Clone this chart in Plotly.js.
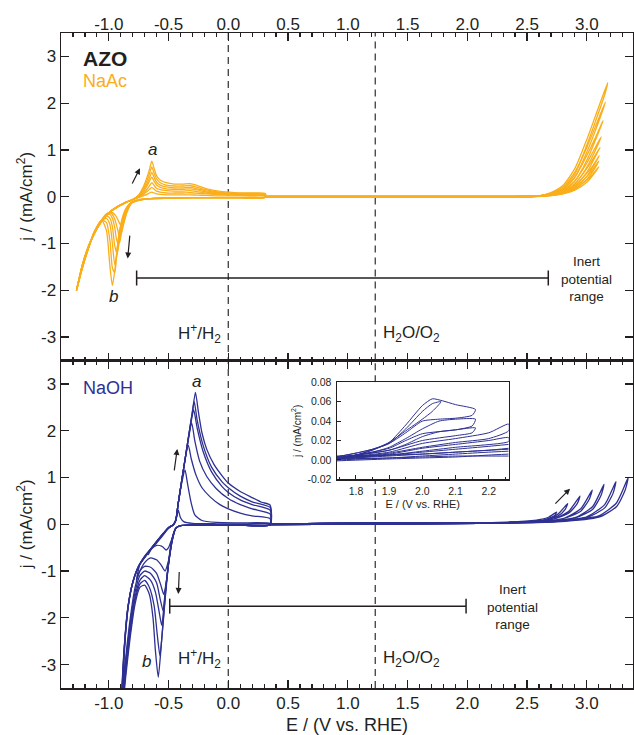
<!DOCTYPE html>
<html><head><meta charset="utf-8">
<script src="https://cdn.plot.ly/plotly-3.0.1.min.js"></script>
<style>html,body{margin:0;padding:0;background:#fff}#chart{width:634px;height:735px}</style>
</head><body><div id="chart"></div>
<script>
// ---------- Top panel (NaAc): cathodic cycles, shared potential axis ----------
const naacCathE = [0.31,0.1,-0.1,-0.3,-0.5,-0.65,-0.75,-0.81,-0.85,-0.87,-0.89,-0.91,-0.93,-0.95,-0.97,-0.99,-1.02,-1.06,-1.12,-1.18,-1.23,-1.27,
  -1.22,-1.16,-1.10,-1.04,-0.98,-0.92,-0.86,-0.80,-0.75,-0.71,-0.68,-0.66,-0.64,-0.62,-0.60,-0.57,-0.52,-0.45,-0.38,-0.32,-0.26,-0.18,-0.08,0.05,0.18,0.31,0.31];
const naacCathJ1 = [-0.01,-0.02,-0.02,-0.02,-0.03,-0.04,-0.08,-0.14,-0.35,-0.52,-0.64,-0.57,-0.46,-0.38,-0.34,-0.33,-0.37,-0.49,-0.76,-1.18,-1.60,-2.00,
  -1.45,-1.00,-0.68,-0.45,-0.30,-0.20,-0.12,-0.06,-0.02,0.02,0.05,0.08,0.10,0.08,0.06,0.05,0.04,0.04,0.04,0.04,0.035,0.03,0.02,0.02,0.015,0.01,-0.01];
const naacCathJ2 = [-0.01,-0.02,-0.02,-0.02,-0.03,-0.04,-0.08,-0.14,-0.32,-0.52,-0.74,-0.84,-0.66,-0.48,-0.38,-0.34,-0.37,-0.50,-0.76,-1.18,-1.61,-2.00,
  -1.46,-1.01,-0.69,-0.46,-0.30,-0.20,-0.12,-0.06,-0.01,0.05,0.11,0.16,0.20,0.16,0.12,0.10,0.08,0.08,0.08,0.085,0.075,0.06,0.045,0.035,0.03,0.02,-0.01];
const naacCathJ3 = [-0.01,-0.02,-0.02,-0.02,-0.03,-0.04,-0.07,-0.13,-0.29,-0.46,-0.70,-0.98,-0.96,-0.66,-0.46,-0.38,-0.39,-0.51,-0.76,-1.17,-1.60,-2.00,
  -1.44,-0.99,-0.68,-0.45,-0.30,-0.20,-0.12,-0.06,0.00,0.08,0.16,0.23,0.30,0.24,0.18,0.15,0.13,0.12,0.12,0.13,0.11,0.08,0.06,0.045,0.04,0.03,-0.01];
const naacCathJ4 = [-0.01,-0.02,-0.02,-0.02,-0.03,-0.04,-0.07,-0.13,-0.27,-0.41,-0.62,-0.92,-1.22,-1.05,-0.64,-0.46,-0.41,-0.51,-0.75,-1.17,-1.59,-2.00,
  -1.45,-1.00,-0.69,-0.46,-0.31,-0.21,-0.13,-0.06,0.01,0.11,0.23,0.33,0.42,0.33,0.25,0.20,0.17,0.16,0.16,0.17,0.145,0.10,0.075,0.055,0.05,0.04,-0.01];
const naacCathJ5 = [-0.01,-0.02,-0.02,-0.02,-0.03,-0.04,-0.07,-0.12,-0.25,-0.37,-0.56,-0.84,-1.22,-1.45,-1.00,-0.60,-0.46,-0.51,-0.75,-1.16,-1.59,-2.00,
  -1.44,-0.99,-0.68,-0.45,-0.30,-0.20,-0.12,-0.06,0.02,0.14,0.28,0.40,0.52,0.41,0.31,0.25,0.21,0.19,0.19,0.20,0.17,0.12,0.085,0.065,0.06,0.05,-0.01];
const naacCathJ6 = [-0.01,-0.02,-0.02,-0.02,-0.03,-0.04,-0.06,-0.12,-0.23,-0.34,-0.51,-0.76,-1.12,-1.62,-1.52,-0.95,-0.55,-0.50,-0.74,-1.16,-1.58,-2.00,
  -1.46,-1.01,-0.69,-0.46,-0.31,-0.21,-0.13,-0.06,0.03,0.18,0.35,0.49,0.64,0.50,0.38,0.30,0.25,0.23,0.23,0.24,0.20,0.145,0.10,0.075,0.07,0.06,-0.01];
const naacCathJ7 = [-0.01,-0.02,-0.02,-0.02,-0.03,-0.04,-0.06,-0.12,-0.22,-0.32,-0.48,-0.72,-1.10,-1.58,-1.90,-1.50,-0.72,-0.50,-0.74,-1.16,-1.58,-2.00,
  -1.45,-1.00,-0.68,-0.45,-0.30,-0.20,-0.12,-0.06,0.04,0.22,0.42,0.58,0.76,0.60,0.45,0.36,0.30,0.27,0.27,0.28,0.24,0.17,0.12,0.09,0.08,0.07,-0.01];

// ---------- Top panel (NaAc): anodic loops ----------
const naacAn1E = [0.31,1.5,2.4,2.6,2.7,2.8,2.9,3.0,3.05,3.10,3.08,3.0,2.9,2.8,2.7,2.5,1.5,0.31];
const naacAn1J = [0.01,0.005,0.01,0.02,0.04,0.08,0.18,0.36,0.48,0.64,0.56,0.31,0.14,0.06,0.025,0.0,-0.005,-0.01];
const naacAn2E = [0.31,1.5,2.4,2.6,2.7,2.8,2.9,3.0,3.05,3.10,3.08,3.0,2.9,2.8,2.7,2.5,1.5,0.31];
const naacAn2J = [0.01,0.005,0.01,0.02,0.045,0.09,0.21,0.43,0.58,0.76,0.66,0.37,0.16,0.065,0.025,0.0,-0.005,-0.01];
const naacAn3E = [0.31,1.5,2.4,2.6,2.7,2.8,2.9,3.0,3.05,3.105,3.08,3.0,2.9,2.8,2.7,2.5,1.5,0.31];
const naacAn3J = [0.01,0.005,0.01,0.02,0.05,0.10,0.24,0.50,0.66,0.88,0.76,0.43,0.19,0.07,0.03,0.0,-0.005,-0.01];
const naacAn4E = [0.31,1.5,2.4,2.6,2.7,2.8,2.9,3.0,3.05,3.11,3.09,3.0,2.9,2.8,2.7,2.5,1.5,0.31];
const naacAn4J = [0.01,0.005,0.01,0.02,0.055,0.12,0.28,0.60,0.80,1.05,0.95,0.52,0.22,0.085,0.035,0.0,-0.005,-0.01];
const naacAn5E = [0.31,1.5,2.4,2.6,2.7,2.8,2.9,3.0,3.05,3.12,3.10,3.0,2.9,2.8,2.7,2.5,1.5,0.31];
const naacAn5J = [0.01,0.005,0.01,0.02,0.06,0.14,0.34,0.72,0.95,1.28,1.15,0.63,0.27,0.10,0.035,0.0,-0.005,-0.01];
const naacAn6E = [0.31,1.5,2.4,2.6,2.7,2.8,2.9,3.0,3.07,3.135,3.11,3.0,2.9,2.8,2.7,2.5,1.5,0.31];
const naacAn6J = [0.01,0.005,0.01,0.02,0.07,0.17,0.42,0.88,1.25,1.62,1.45,0.78,0.33,0.12,0.04,0.0,-0.005,-0.01];
const naacAn7E = [0.31,1.5,2.4,2.6,2.7,2.8,2.9,3.0,3.08,3.155,3.13,3.0,2.9,2.8,2.7,2.5,1.5,0.31];
const naacAn7J = [0.01,0.005,0.01,0.02,0.08,0.21,0.52,1.05,1.55,2.02,1.82,0.95,0.41,0.15,0.05,0.0,-0.005,-0.01];
const naacAn8E = [0.31,1.5,2.4,2.6,2.7,2.8,2.9,3.0,3.09,3.175,3.15,3.0,2.9,2.8,2.7,2.5,1.5,0.31];
const naacAn8J = [0.01,0.005,0.01,0.02,0.09,0.24,0.60,1.22,1.85,2.44,2.18,1.10,0.48,0.18,0.055,0.0,-0.005,-0.01];

// ---------- Bottom panel (NaOH): cathodic cycles ----------
const naohC1E = [0.35,0.1,-0.2,-0.40,-0.44,-0.47,-0.50,-0.52,-0.55,-0.60,-0.64,-0.67,-0.64,-0.60,-0.55,-0.50,-0.46,-0.44,-0.43,-0.418,-0.40,-0.37,-0.30,-0.1,0.15,0.35,0.35];
const naohC1J = [-0.01,-0.02,-0.02,-0.03,-0.09,-0.30,-0.50,-0.55,-0.48,-0.45,-0.52,-0.65,-0.50,-0.40,-0.25,-0.08,-0.01,0.08,0.18,0.30,0.14,0.05,0.02,0.01,0.01,0.01,-0.01];
const naohC2E = [0.35,0.1,-0.2,-0.40,-0.44,-0.47,-0.50,-0.53,-0.56,-0.60,-0.65,-0.70,-0.74,-0.77,-0.74,-0.70,-0.655,-0.60,-0.55,-0.50,-0.46,-0.44,-0.42,-0.39,-0.362,-0.34,-0.31,-0.28,-0.22,-0.1,0.1,0.35,0.35];
const naohC2J = [-0.01,-0.02,-0.02,-0.03,-0.09,-0.36,-0.78,-1.00,-0.88,-0.76,-0.72,-0.82,-1.00,-1.20,-0.86,-0.68,-0.55,-0.38,-0.22,-0.07,-0.01,0.08,0.42,0.88,1.16,0.85,0.45,0.20,0.08,0.04,0.03,0.02,-0.01];
const naohC3E = [0.35,0.1,-0.2,-0.40,-0.44,-0.47,-0.50,-0.52,-0.54,-0.565,-0.60,-0.65,-0.70,-0.74,-0.78,-0.82,-0.86,-0.90,-0.885,-0.862,-0.835,-0.795,-0.74,-0.66,-0.57,-0.50,-0.46,-0.44,-0.42,-0.38,-0.335,-0.31,-0.27,-0.22,-0.15,-0.07,0.0,0.1,0.2,0.35,0.35];
const naohC3J = [-0.01,-0.02,-0.02,-0.03,-0.09,-0.36,-0.85,-1.25,-1.50,-1.30,-1.05,-0.92,-0.90,-1.00,-1.35,-2.0,-2.9,-4.0,-3.45,-2.42,-1.72,-1.20,-0.84,-0.56,-0.27,-0.07,-0.01,0.08,0.43,1.09,1.69,1.40,1.05,0.78,0.58,0.42,0.33,0.24,0.18,0.12,-0.01];
const naohC4E = [0.35,0.1,-0.2,-0.40,-0.44,-0.47,-0.50,-0.525,-0.545,-0.57,-0.60,-0.65,-0.70,-0.74,-0.78,-0.82,-0.86,-0.90,-0.887,-0.864,-0.837,-0.797,-0.742,-0.66,-0.57,-0.50,-0.46,-0.44,-0.42,-0.38,-0.34,-0.306,-0.28,-0.24,-0.18,-0.10,0.0,0.1,0.2,0.35,0.35];
const naohC4J = [-0.01,-0.02,-0.02,-0.03,-0.09,-0.35,-0.85,-1.40,-1.85,-1.60,-1.25,-1.05,-1.00,-1.10,-1.45,-2.1,-3.0,-4.1,-3.48,-2.45,-1.74,-1.22,-0.86,-0.57,-0.28,-0.08,-0.01,0.08,0.43,1.09,1.72,2.16,1.78,1.35,1.02,0.76,0.55,0.42,0.33,0.22,-0.01];
const naohC5E = [0.35,0.1,-0.2,-0.40,-0.44,-0.47,-0.50,-0.53,-0.557,-0.58,-0.61,-0.65,-0.70,-0.74,-0.78,-0.82,-0.86,-0.90,-0.888,-0.865,-0.838,-0.798,-0.744,-0.66,-0.57,-0.50,-0.46,-0.44,-0.42,-0.38,-0.34,-0.31,-0.29,-0.26,-0.21,-0.14,-0.05,0.0,0.1,0.2,0.35,0.35];
const naohC5J = [-0.01,-0.02,-0.02,-0.03,-0.09,-0.33,-0.85,-1.50,-2.16,-1.85,-1.45,-1.20,-1.10,-1.20,-1.55,-2.2,-3.1,-4.2,-3.5,-2.47,-1.75,-1.23,-0.87,-0.57,-0.28,-0.08,-0.01,0.08,0.43,1.09,1.75,2.2,2.45,2.05,1.55,1.12,0.80,0.68,0.52,0.42,0.30,-0.01];
const naohC6E = [0.35,0.1,-0.2,-0.40,-0.44,-0.47,-0.50,-0.53,-0.555,-0.572,-0.595,-0.62,-0.66,-0.70,-0.74,-0.78,-0.82,-0.86,-0.90,-0.889,-0.866,-0.839,-0.799,-0.746,-0.66,-0.57,-0.50,-0.46,-0.44,-0.42,-0.38,-0.34,-0.30,-0.285,-0.26,-0.21,-0.14,-0.05,0.0,0.1,0.2,0.35,0.35];
const naohC6J = [-0.01,-0.02,-0.02,-0.03,-0.09,-0.32,-0.85,-1.65,-2.40,-2.81,-2.35,-1.75,-1.35,-1.20,-1.28,-1.62,-2.3,-3.2,-4.3,-3.5,-2.48,-1.76,-1.24,-0.88,-0.58,-0.28,-0.08,-0.01,0.08,0.43,1.09,1.75,2.41,2.62,2.22,1.68,1.22,0.90,0.78,0.60,0.48,0.36,-0.01];
const naohC7E = [0.35,0.1,-0.2,-0.40,-0.44,-0.47,-0.50,-0.53,-0.56,-0.586,-0.61,-0.63,-0.66,-0.70,-0.74,-0.78,-0.82,-0.86,-0.90,-0.89,-0.867,-0.84,-0.80,-0.748,-0.66,-0.57,-0.50,-0.46,-0.44,-0.42,-0.38,-0.34,-0.30,-0.275,-0.25,-0.22,-0.18,-0.12,-0.05,0.0,0.1,0.2,0.28,0.35,0.35];
const naohC7J = [-0.01,-0.02,-0.02,-0.03,-0.09,-0.30,-0.80,-1.60,-2.55,-3.27,-2.70,-2.00,-1.50,-1.30,-1.35,-1.70,-2.4,-3.3,-4.4,-3.5,-2.49,-1.77,-1.25,-0.89,-0.58,-0.28,-0.08,-0.01,0.08,0.43,1.09,1.75,2.41,2.82,2.40,1.95,1.60,1.28,1.03,0.88,0.70,0.57,0.47,0.41,-0.01];

// ---------- Bottom panel (NaOH): anodic loops ----------
const naohA1E = [0.35,0.8,1.3,1.8,2.1,2.3,2.45,2.58,2.68,2.748,2.73,2.68,2.58,2.45,2.1,1.5,0.35];
const naohA1J = [0.0,0.02,0.03,0.03,0.03,0.04,0.06,0.09,0.15,0.26,0.18,0.10,0.06,0.04,0.02,0.01,-0.01];
const naohA2E = [0.35,0.8,1.3,1.8,2.1,2.35,2.5,2.65,2.76,2.84,2.82,2.76,2.65,2.5,2.1,1.5,0.35];
const naohA2J = [0.0,0.02,0.03,0.03,0.03,0.04,0.06,0.10,0.22,0.44,0.32,0.18,0.09,0.05,0.02,0.01,-0.01];
const naohA3E = [0.35,0.8,1.3,1.8,2.1,2.4,2.55,2.72,2.85,2.943,2.92,2.85,2.72,2.55,2.1,1.5,0.35];
const naohA3J = [0.0,0.02,0.03,0.03,0.03,0.04,0.06,0.11,0.28,0.60,0.44,0.24,0.11,0.05,0.02,0.01,-0.01];
const naohA4E = [0.35,0.8,1.3,1.8,2.1,2.45,2.62,2.8,2.95,3.046,3.02,2.95,2.8,2.6,2.1,1.5,0.35];
const naohA4J = [0.0,0.02,0.03,0.03,0.03,0.045,0.065,0.12,0.33,0.73,0.53,0.28,0.12,0.05,0.02,0.01,-0.01];
const naohA5E = [0.35,0.8,1.3,1.8,2.1,2.5,2.7,2.9,3.05,3.144,3.12,3.05,2.9,2.65,2.1,1.5,0.35];
const naohA5J = [0.0,0.02,0.03,0.03,0.03,0.045,0.07,0.14,0.38,0.85,0.62,0.32,0.13,0.05,0.02,0.01,-0.01];
const naohA6E = [0.35,0.8,1.3,1.8,2.1,2.55,2.78,3.0,3.15,3.244,3.22,3.15,3.0,2.7,2.1,1.5,0.35];
const naohA6J = [0.0,0.02,0.03,0.03,0.03,0.05,0.08,0.16,0.42,0.91,0.66,0.35,0.14,0.05,0.02,0.01,-0.01];
const naohA7E = [0.35,0.8,1.3,1.8,2.1,2.6,2.85,3.1,3.25,3.347,3.32,3.25,3.1,2.75,2.1,1.5,0.35];
const naohA7J = [0.0,0.02,0.03,0.03,0.03,0.05,0.09,0.18,0.46,1.0,0.72,0.38,0.15,0.05,0.02,0.01,-0.01];

// ---------- Inset (NaOH, 1.74-2.26 V) ----------
const ins1E = [1.74,1.80,1.85,1.90,1.95,2.00,2.03,2.056,2.03,2.00,1.95,1.90,1.85,1.80,1.74];
const ins1J = [0.003,0.007,0.011,0.017,0.032,0.050,0.058,0.060,0.050,0.042,0.030,0.018,0.010,0.005,0.002];
const ins2E = [1.74,1.80,1.85,1.90,1.95,2.00,2.03,2.06,2.10,2.16,2.15,2.10,2.05,2.00,1.95,1.90,1.80,1.74];
const ins2J = [0.003,0.007,0.011,0.018,0.036,0.056,0.063,0.061,0.057,0.052,0.046,0.043,0.042,0.040,0.028,0.017,0.005,0.002];
const ins3E = [1.74,1.85,1.90,1.95,2.00,2.05,2.10,2.16,2.15,2.10,2.00,1.95,1.90,1.80,1.74];
const ins3J = [0.002,0.008,0.013,0.022,0.032,0.040,0.042,0.042,0.035,0.031,0.027,0.020,0.012,0.005,0.002];
const ins4E = [1.74,1.90,1.95,2.00,2.05,2.10,2.16,2.15,2.10,2.00,1.90,1.74];
const ins4J = [0.002,0.010,0.016,0.024,0.029,0.031,0.033,0.028,0.025,0.020,0.010,0.002];
const ins5E = [1.74,1.90,2.00,2.10,2.20,2.26,2.26,2.20,2.10,2.00,1.90,1.74];
const ins5J = [0.002,0.008,0.017,0.022,0.028,0.037,0.030,0.022,0.018,0.013,0.007,0.001];
const ins6E = [1.74,1.90,2.00,2.10,2.20,2.26,2.26,2.10,2.00,1.90,1.74];
const ins6J = [0.002,0.006,0.012,0.016,0.020,0.023,0.019,0.013,0.009,0.005,0.001];
const insBandE = [1.74,1.90,2.00,2.10,2.20,2.26];
const insBand1J = [0.002,0.005,0.008,0.011,0.014,0.016];
const insBand2J = [0.001,0.004,0.006,0.008,0.010,0.012];
const insBand3J = [0.000,0.002,0.004,0.006,0.008,0.009];
const insBand4J = [-0.001,0.001,0.002,0.003,0.005,0.006];
const insBand5J = [0.004,0.005,0.006,0.008,0.010,0.011];
const insBand6J = [0.001,0.002,0.003,0.004,0.004,0.004];

// ---------- Axes / labels ----------
const xTickVals = [-1.0,-0.5,0.0,0.5,1.0,1.5,2.0,2.5,3.0];
const xTickText = ['-1.0','-0.5','0.0','0.5','1.0','1.5','2.0','2.5','3.0'];
const yTickVals = [-3,-2,-1,0,1,2,3];
const yTickText = ['-3','-2','-1','0','1','2','3'];
const insXTickVals = [1.8,1.9,2.0,2.1,2.2];
const insXTickText = ['1.8','1.9','2.0','2.1','2.2'];
const insYTickVals = [-0.02,0.0,0.02,0.04,0.06,0.08];
const insYTickText = ['-0.02','0.00','0.02','0.04','0.06','0.08'];
const redoxE = [0.0, 1.23];          // H+/H2 and H2O/O2 potentials
const inertTopE = [-0.767, 2.678], inertTopJ = -1.735;
const inertBotE = [-0.49, 1.99],   inertBotJ = -1.75;
const yTitle = 'j / (mA/cm<sup>2</sup>)';

const ORANGE = '#FAAE1A', BLUE = '#2E3192', INK = '#231F20', DASH = '#3d3d3d';
const FONT = 'Liberation Sans, Arial, Helvetica, sans-serif';

function cv(x, y, color, xa, ya, w) {
  return {x: x, y: y, type: 'scatter', mode: 'lines', xaxis: xa, yaxis: ya,
    line: {color: color, width: w || 1.3, shape: 'spline', smoothing: 0.6},
    hoverinfo: 'skip', showlegend: false};
}

const traces = [];
[naacCathJ1,naacCathJ2,naacCathJ3,naacCathJ4,naacCathJ5,naacCathJ6,naacCathJ7].forEach(j => traces.push(cv(naacCathE, j, ORANGE, 'x2', 'y2')));
[[naacAn1E,naacAn1J],[naacAn2E,naacAn2J],[naacAn3E,naacAn3J],[naacAn4E,naacAn4J],[naacAn5E,naacAn5J],[naacAn6E,naacAn6J],[naacAn7E,naacAn7J],[naacAn8E,naacAn8J]]
  .forEach(p => traces.push(cv(p[0], p[1], ORANGE, 'x2', 'y2')));
[[naohC1E,naohC1J],[naohC2E,naohC2J],[naohC3E,naohC3J],[naohC4E,naohC4J],[naohC5E,naohC5J],[naohC6E,naohC6J],[naohC7E,naohC7J]]
  .forEach(p => traces.push(cv(p[0], p[1], BLUE, 'x', 'y')));
[[naohA1E,naohA1J],[naohA2E,naohA2J],[naohA3E,naohA3J],[naohA4E,naohA4J],[naohA5E,naohA5J],[naohA6E,naohA6J],[naohA7E,naohA7J]]
  .forEach(p => traces.push(cv(p[0], p[1], BLUE, 'x', 'y')));
[[ins1E,ins1J],[ins2E,ins2J],[ins3E,ins3J],[ins4E,ins4J],[ins5E,ins5J],[ins6E,ins6J],
 [insBandE,insBand1J],[insBandE,insBand2J],[insBandE,insBand3J],[insBandE,insBand4J],[insBandE,insBand5J],[insBandE,insBand6J]]
  .forEach(p => traces.push(cv(p[0], p[1], BLUE, 'x3', 'y3', 1.0)));

const xRange = [-1.4, 3.387];
const baseX = {
  range: xRange, showline: true, linecolor: INK, linewidth: 1.5, mirror: 'ticks',
  ticks: 'inside', ticklen: 8, tickwidth: 1.3, tickcolor: INK,
  tickmode: 'array', tickvals: xTickVals, ticktext: xTickText,
  minor: {tickmode: 'linear', tick0: 0, dtick: 0.1, ticks: 'inside', ticklen: 4, tickwidth: 1.2, tickcolor: INK},
  tickfont: {size: 17, color: INK, family: FONT}, showgrid: false, zeroline: false, fixedrange: true
};
const baseY = {
  range: [-3.5, 3.5], showline: true, linecolor: INK, linewidth: 1.5, mirror: 'ticks',
  ticks: 'inside', ticklen: 8, tickwidth: 1.3, tickcolor: INK,
  tickmode: 'array', tickvals: yTickVals, ticktext: yTickText, ticklabelstandoff: 0,
  tickfont: {size: 17, color: INK, family: FONT}, showgrid: false, zeroline: false
};

const ann = [];
function txt(xr, yr, x, y, text, size, color, extra) {
  return Object.assign({xref: xr, yref: yr, x: x, y: y, text: text, showarrow: false,
    font: {size: size, color: color, family: FONT}}, extra || {});
}
function arrow(xr, yr, x0, y0, x1, y1) {
  return {xref: xr, yref: yr, axref: xr, ayref: yr, ax: x0, ay: y0, x: x1, y: y1, text: '',
    showarrow: true, arrowhead: 2, arrowsize: 1, arrowwidth: 1.2, arrowcolor: INK, standoff: 0, startstandoff: 0};
}
// y-axis titles of both panels
ann.push(txt('paper','y2',-0.063,0,yTitle,17,INK,{textangle:-90, xanchor:'center', yanchor:'middle'}));
ann.push(txt('paper','y',-0.063,0,yTitle,17,INK,{textangle:-90, xanchor:'center', yanchor:'middle'}));
ann.push(txt('x2','y2',-1.235,2.95,'<b>AZO</b>',21,INK,{xanchor:'left'}));
ann.push(txt('x2','y2',-1.235,2.47,'NaAc',18,ORANGE,{xanchor:'left'}));
ann.push(txt('x','y',-1.235,2.92,'NaOH',18,BLUE,{xanchor:'left'}));
ann.push(txt('x2','y2',-0.636,1.0,'<i>a</i>',17,INK));
ann.push(txt('x2','y2',-0.962,-2.14,'<i>b</i>',17,INK));
ann.push(txt('x','y',-0.265,3.06,'<i>a</i>',17,INK));
ann.push(txt('x','y',-0.683,-2.93,'<i>b</i>',17,INK));
ann.push(txt('x2','y2',-0.245,-2.93,'H<sup>+</sup>/H<sub>2</sub>',17,INK));
ann.push(txt('x2','y2',1.535,-2.93,'H<sub>2</sub>O/O<sub>2</sub>',17,INK));
ann.push(txt('x','y',-0.245,-2.88,'H<sup>+</sup>/H<sub>2</sub>',17,INK));
ann.push(txt('x','y',1.535,-2.88,'H<sub>2</sub>O/O<sub>2</sub>',17,INK));
ann.push(txt('x2','y2',3.0,-1.76,'Inert<br>potential<br>range',13.5,INK));
ann.push(txt('x','y',2.38,-1.76,'Inert<br>potential<br>range',13.5,INK));
ann.push(arrow('x2','y2',-0.81,0.25,-0.739,0.61));
ann.push(arrow('x2','y2',-0.823,-0.80,-0.842,-1.32));
ann.push(arrow('x','y',-0.454,1.12,-0.427,1.61));
ann.push(arrow('x','y',-0.41,-0.99,-0.418,-1.49));
ann.push(arrow('x','y',2.725,0.41,2.86,0.76));

const INS_X = [0.482, 0.7827], INS_Y = [0.3186, 0.4667];
const dashLine = {color: DASH, width: 1.3, dash: '7px,5px'};
const barLine = {color: INK, width: 1.5};
const shapes = [
  {type:'line', xref:'x', yref:'paper', x0:redoxE[0], x1:redoxE[0], y0:0, y1:1, line:dashLine, layer:'below'},
  {type:'line', xref:'x', yref:'paper', x0:redoxE[1], x1:redoxE[1], y0:0.5, y1:1, line:dashLine, layer:'below'},
  {type:'line', xref:'x', yref:'paper', x0:redoxE[1], x1:redoxE[1], y0:INS_Y[1], y1:0.5, line:dashLine, layer:'below'},
  {type:'line', xref:'x', yref:'paper', x0:redoxE[1], x1:redoxE[1], y0:0, y1:INS_Y[0], line:dashLine, layer:'below'},
  {type:'line', xref:'x2', yref:'y2', x0:inertTopE[0], x1:inertTopE[1], y0:inertTopJ, y1:inertTopJ, line:barLine},
  {type:'line', xref:'x2', yref:'y2', x0:inertTopE[0], x1:inertTopE[0], y0:inertTopJ-0.16, y1:inertTopJ+0.16, line:barLine},
  {type:'line', xref:'x2', yref:'y2', x0:inertTopE[1], x1:inertTopE[1], y0:inertTopJ-0.16, y1:inertTopJ+0.16, line:barLine},
  {type:'line', xref:'x', yref:'y', x0:inertBotE[0], x1:inertBotE[1], y0:inertBotJ, y1:inertBotJ, line:barLine},
  {type:'line', xref:'x', yref:'y', x0:inertBotE[0], x1:inertBotE[0], y0:inertBotJ-0.16, y1:inertBotJ+0.16, line:barLine},
  {type:'line', xref:'x', yref:'y', x0:inertBotE[1], x1:inertBotE[1], y0:inertBotJ-0.16, y1:inertBotJ+0.16, line:barLine}
];

const layout = {
  width: 634, height: 735,
  margin: {l: 61, r: 1, t: 33, b: 47},
  paper_bgcolor: '#fff', plot_bgcolor: '#fff',
  font: {family: FONT, color: INK},
  showlegend: false,
  xaxis: Object.assign({}, baseX, {domain: [0, 1], anchor: 'y', side: 'bottom', ticklabelstandoff: -1,
    title: {text: 'E / (V vs. RHE)', font: {size: 18, color: INK, family: FONT}, standoff: 9}}),
  xaxis2: Object.assign({}, baseX, {domain: [0, 1], anchor: 'y2', side: 'top', ticklabelstandoff: -5}),
  yaxis: Object.assign({}, baseY, {domain: [0, 0.5], anchor: 'x'}),
  yaxis2: Object.assign({}, baseY, {domain: [0.5, 1], anchor: 'x2'}),
  xaxis3: {domain: INS_X, anchor: 'y3', range: [1.742, 2.26], showline: true, mirror: true,
    linecolor: INK, linewidth: 1.2, ticks: 'inside', ticklen: 4, tickwidth: 1, tickcolor: INK,
    tickmode: 'array', tickvals: insXTickVals, ticktext: insXTickText,
    minor: {tickmode: 'linear', tick0: 1.75, dtick: 0.05, ticks: 'inside', ticklen: 2.5, tickwidth: 1, tickcolor: INK},
    tickfont: {size: 10.5, color: INK, family: FONT}, showgrid: false, zeroline: false, ticklabelstandoff: 2,
    title: {text: 'E / (V vs. RHE)', font: {size: 11, color: INK, family: FONT}, standoff: 4}},
  yaxis3: {domain: INS_Y, anchor: 'x3', range: [-0.02, 0.08], showline: true, mirror: true,
    linecolor: INK, linewidth: 1.2, ticks: 'inside', ticklen: 4, tickwidth: 1, tickcolor: INK,
    tickmode: 'array', tickvals: insYTickVals, ticktext: insYTickText,
    tickfont: {size: 10.5, color: INK, family: FONT}, showgrid: false, zeroline: false, ticklabelstandoff: 2,
    title: {text: 'j / (mA/cm<sup>2</sup>)', font: {size: 10, color: INK, family: FONT}, standoff: 4}},
  annotations: ann,
  shapes: shapes
};

Plotly.newPlot('chart', traces, layout, {staticPlot: true, displayModeBar: false});
</script>
</body></html>
